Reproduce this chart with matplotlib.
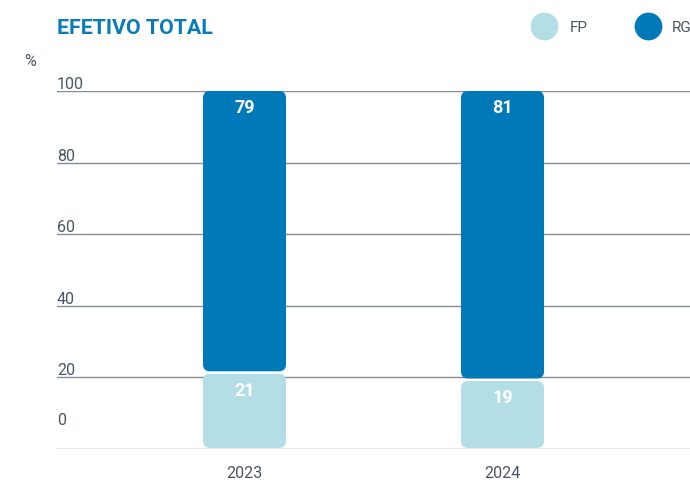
import matplotlib.pyplot as plt
from matplotlib.patches import FancyBboxPatch
from matplotlib.lines import Line2D

plt.rcParams['font.family'] = ['Roboto', 'DejaVu Sans']

# Dados
anos = ['2023', '2024']
fp = [21, 19]
rg = [79, 81]
yticks = [0, 20, 40, 60, 80, 100]

cor_fp = '#B3DEE5'
cor_rg = '#0079B8'
cor_titulo = '#0A7BB8'
cor_texto = '#4A5563'
cor_grelha = '#858B98'

W, H = 690, 480
fig = plt.figure(figsize=(W / 100, H / 100), dpi=100)

# eixo em pixeis: x de 57 a 690, y de 91 (100%) a 449 (0%)
x0, x1, y_top, y_bot = 57, 690, 91, 449
ax = fig.add_axes([x0 / W, (H - y_bot) / H, (x1 - x0) / W, (y_bot - y_top) / H])
ax.set_ylim(0, 100)
px_x = 258.0  # pixeis por unidade em x
ax.set_xlim(-(244.5 - x0) / px_x, 1 + (x1 - 502.5) / px_x)
for s in ax.spines.values():
    s.set_visible(False)
ax.set_xticks([])
ax.set_yticks([])

# grelha
for v in yticks:
    ax.axhline(v, color=cor_grelha, lw=1.0, zorder=1)
    dy = 17 if v == 0 else 1.5  # o rotulo do 0 fica mais acima
    ax.annotate(str(v), xy=(0, v), xycoords=('axes fraction', 'data'),
                xytext=(0, dy), textcoords='offset points',
                ha='left', va='baseline', fontsize=11.5, color=cor_texto)

largura = 83 / px_x
px_y = (y_bot - y_top) / 100.0
aspecto = px_x / px_y
raio = 7 / px_x
gap = 2.5 / px_y


def barra(x, y0, h, cor):
    p = FancyBboxPatch((x - largura / 2, y0), largura, h,
                       boxstyle=f'round,pad=0,rounding_size={raio}',
                       mutation_aspect=aspecto, fc=cor, ec='none', zorder=3)
    ax.add_patch(p)


for i, ano in enumerate(anos):
    barra(i, 0.3, fp[i] - 0.3, cor_fp)
    barra(i, fp[i] + gap, rg[i] - gap, cor_rg)
    ax.text(i, fp[i] - 17 / px_y, str(fp[i]), ha='center', va='center',
            color='white', fontsize=13, fontweight='bold', zorder=4)
    ax.text(i, 100 - 17 / px_y, str(rg[i]), ha='center', va='center',
            color='white', fontsize=13, fontweight='bold', zorder=4)
    ax.text(i, -24 / px_y, ano, ha='center', va='center',
            color=cor_texto, fontsize=11.5, clip_on=False)

# titulo e legenda
fig.text(57 / W, 1 - 28 / H, 'EFETIVO TOTAL', ha='left', va='center',
         fontsize=15.4, fontweight='bold', color=cor_titulo)
fig.text(24 / W, 1 - 61 / H, '%', ha='left', va='center',
         fontsize=11.5, color=cor_texto)

for cx, tx, cor, lab in [(544, 570, cor_fp, 'FP'), (648, 672, cor_rg, 'RG')]:
    fig.add_artist(Line2D([cx / W], [1 - 26 / H], marker='o', markersize=19,
                          color=cor, transform=fig.transFigure))
    fig.text(tx / W, 1 - 28 / H, lab, ha='left', va='center',
             fontsize=11, color=cor_texto)

fig.savefig('out.png', dpi=100)
